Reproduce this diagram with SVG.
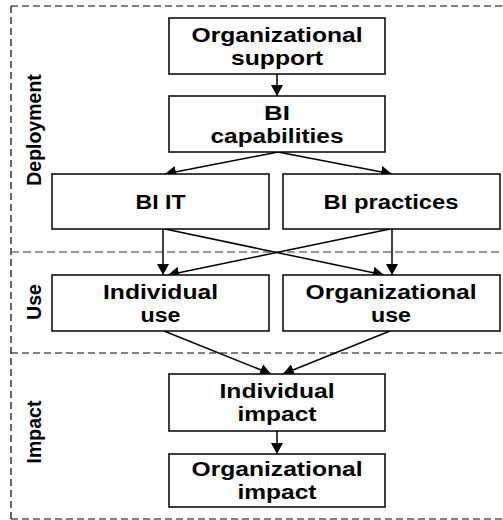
<svg xmlns="http://www.w3.org/2000/svg" width="503" height="520" viewBox="0 0 503 520">
<defs>
<marker id="arr" markerUnits="userSpaceOnUse" viewBox="0 0 11 12" markerWidth="11" markerHeight="12" refX="11" refY="6" orient="auto">
<path d="M0,0 L11,6 L0,12 z" fill="#000"/>
</marker>
<style>
.box{fill:#fff;stroke:#000;stroke-width:1.5}
.t{font-family:"Liberation Sans",Arial,sans-serif;font-weight:bold;font-size:20px;text-anchor:middle;fill:#000}
.lab{font-family:"Liberation Sans",Arial,sans-serif;font-weight:bold;font-size:19.5px;text-anchor:middle;fill:#000}
.c{stroke:#000;stroke-width:1.5;fill:none;marker-end:url(#arr)}
.dk{stroke:#000;stroke-width:1.2;stroke-dasharray:7 4;fill:none}
.dg{stroke:#777;stroke-width:1.5;stroke-dasharray:8 4;fill:none}
</style>
</defs>
<rect width="503" height="520" fill="#fff"/>
<g id="frame">
<line class="dk" x1="11" y1="6" x2="503" y2="6"/>
<line class="dk" x1="11" y1="6" x2="11" y2="519"/>
<line class="dk" x1="11" y1="519" x2="503" y2="519"/>
<line class="dg" x1="11" y1="252" x2="503" y2="252"/>
<line class="dk" x1="11" y1="353" x2="503" y2="353"/>
</g>
<g id="labels">
<text class="lab" transform="translate(41,130) rotate(-90)">Deployment</text>
<text class="lab" transform="translate(41,302) rotate(-90)">Use</text>
<text class="lab" transform="translate(41,432) rotate(-90)">Impact</text>
</g>
<g id="connectors">
<line class="c" x1="277" y1="74" x2="277" y2="96"/>
<line class="c" x1="278" y1="152" x2="165" y2="174"/>
<line class="c" x1="278" y1="152" x2="392" y2="174"/>
<line class="c" x1="163" y1="229" x2="163" y2="275"/>
<line class="c" x1="165" y1="229" x2="384" y2="275"/>
<line class="c" x1="390" y1="229" x2="168" y2="275"/>
<line class="c" x1="392" y1="229" x2="392" y2="275"/>
<line class="c" x1="164" y1="331" x2="271" y2="374"/>
<line class="c" x1="390" y1="331" x2="283" y2="374"/>
<line class="c" x1="277" y1="431" x2="277" y2="454"/>
</g>
<g id="org-support">
<rect class="box" x="169" y="18" width="216" height="56"/>
<text class="t" x="277" y="42" textLength="171" lengthAdjust="spacingAndGlyphs">Organizational</text>
<text class="t" x="277" y="65" textLength="92" lengthAdjust="spacingAndGlyphs">support</text>
</g>
<g id="bi-capabilities">
<rect class="box" x="169" y="96" width="216" height="56"/>
<text class="t" x="277" y="120" textLength="26" lengthAdjust="spacingAndGlyphs">BI</text>
<text class="t" x="277" y="143" textLength="133" lengthAdjust="spacingAndGlyphs">capabilities</text>
</g>
<g id="bi-it">
<rect class="box" x="52" y="174" width="217" height="55"/>
<text class="t" x="160.5" y="208.5" textLength="50" lengthAdjust="spacingAndGlyphs">BI IT</text>
</g>
<g id="bi-practices">
<rect class="box" x="283" y="174" width="217" height="55"/>
<text class="t" x="391" y="208.5" textLength="135" lengthAdjust="spacingAndGlyphs">BI practices</text>
</g>
<g id="individual-use">
<rect class="box" x="52" y="275" width="217" height="56"/>
<text class="t" x="160.5" y="299" textLength="115" lengthAdjust="spacingAndGlyphs">Individual</text>
<text class="t" x="160.5" y="322" textLength="40" lengthAdjust="spacingAndGlyphs">use</text>
</g>
<g id="organizational-use">
<rect class="box" x="283" y="275" width="217" height="56"/>
<text class="t" x="391" y="299" textLength="171" lengthAdjust="spacingAndGlyphs">Organizational</text>
<text class="t" x="391" y="322" textLength="40" lengthAdjust="spacingAndGlyphs">use</text>
</g>
<g id="individual-impact">
<rect class="box" x="169" y="374" width="216" height="57"/>
<text class="t" x="277" y="398" textLength="115" lengthAdjust="spacingAndGlyphs">Individual</text>
<text class="t" x="277" y="421" textLength="79" lengthAdjust="spacingAndGlyphs">impact</text>
</g>
<g id="organizational-impact">
<rect class="box" x="169" y="454" width="216" height="53"/>
<text class="t" x="277" y="476" textLength="171" lengthAdjust="spacingAndGlyphs">Organizational</text>
<text class="t" x="277" y="499" textLength="79" lengthAdjust="spacingAndGlyphs">impact</text>
</g>
</svg>
